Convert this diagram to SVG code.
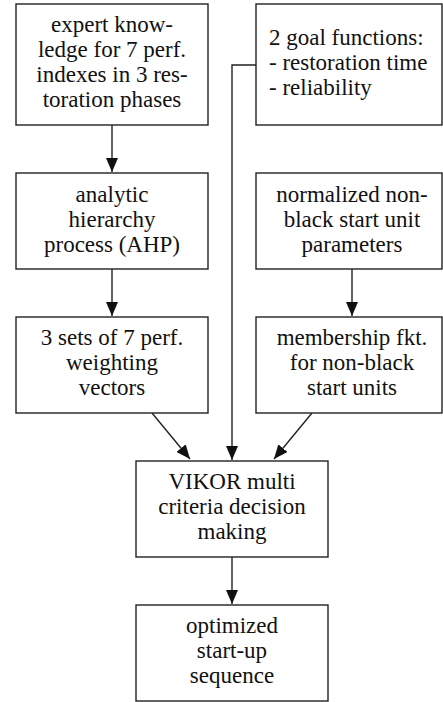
<svg xmlns="http://www.w3.org/2000/svg" width="443" height="702" viewBox="0 0 443 702">
<defs>
<style>
.box{fill:#fff;stroke:#222;stroke-width:1.4}
.c{fill:none;stroke:#222;stroke-width:1.4}
text{font-family:'Liberation Serif','Times New Roman',serif;font-size:23px;fill:#111}
.m{text-anchor:middle}
</style>
<marker id="ah" markerWidth="14" markerHeight="12" refX="14" refY="6" orient="auto" markerUnits="userSpaceOnUse">
<path d="M0,0 L14,6 L0,12 Z" fill="#111"/>
</marker>
</defs>
<rect width="443" height="702" fill="#fff"/>
<g id="connectors">
<line class="c" x1="112" y1="125" x2="112" y2="172" marker-end="url(#ah)"/>
<line class="c" x1="112" y1="269" x2="112" y2="316" marker-end="url(#ah)"/>
<line class="c" x1="352" y1="269" x2="352" y2="316" marker-end="url(#ah)"/>
<polyline class="c" points="256,65 232,65 232,460" marker-end="url(#ah)"/>
<line class="c" x1="152" y1="413" x2="190" y2="459" marker-end="url(#ah)"/>
<line class="c" x1="312" y1="413" x2="274" y2="459" marker-end="url(#ah)"/>
<line class="c" x1="232" y1="557" x2="232" y2="604" marker-end="url(#ah)"/>
</g>
<g id="expert">
<rect class="box" x="16" y="4" width="192" height="121"/>
<text class="m" x="112" y="32">expert know-</text>
<text class="m" x="112" y="57">ledge for 7 perf.</text>
<text class="m" x="112" y="82">indexes in 3 res-</text>
<text class="m" x="112" y="107">toration phases</text>
</g>
<g id="goal">
<rect class="box" x="256" y="4" width="186" height="121"/>
<text x="269" y="45">2 goal functions:</text>
<text x="269" y="70">- restoration time</text>
<text x="269" y="95">- reliability</text>
</g>
<g id="ahp">
<rect class="box" x="16" y="173" width="192" height="96"/>
<text class="m" x="112" y="202">analytic</text>
<text class="m" x="112" y="227">hierarchy</text>
<text class="m" x="112" y="252">process (AHP)</text>
</g>
<g id="normalized">
<rect class="box" x="256" y="173" width="186" height="96"/>
<text class="m" x="352" y="202">normalized non-</text>
<text class="m" x="352" y="227">black start unit</text>
<text class="m" x="352" y="252">parameters</text>
</g>
<g id="sets">
<rect class="box" x="16" y="317" width="192" height="96"/>
<text class="m" x="112" y="345">3 sets of 7 perf.</text>
<text class="m" x="112" y="370">weighting</text>
<text class="m" x="112" y="395">vectors</text>
</g>
<g id="membership">
<rect class="box" x="256" y="317" width="186" height="96"/>
<text class="m" x="352" y="345">membership fkt.</text>
<text class="m" x="352" y="370">for non-black</text>
<text class="m" x="352" y="395">start units</text>
</g>
<g id="vikor">
<rect class="box" x="136" y="461" width="192" height="96"/>
<text class="m" x="232" y="489">VIKOR multi</text>
<text class="m" x="232" y="514">criteria decision</text>
<text class="m" x="232" y="539">making</text>
</g>
<g id="optimized">
<rect class="box" x="136" y="605" width="192" height="96"/>
<text class="m" x="232" y="633">optimized</text>
<text class="m" x="232" y="658">start-up</text>
<text class="m" x="232" y="683">sequence</text>
</g>
</svg>
